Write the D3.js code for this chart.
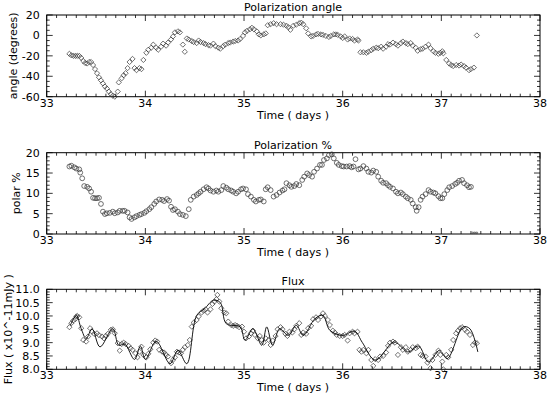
<!DOCTYPE html>
<html>
<head>
<meta charset="utf-8">
<script src="https://cdnjs.cloudflare.com/ajax/libs/d3/7.8.5/d3.min.js"></script>
<style>
  body { margin: 0; background: #fff; }
  svg text { font-family: "DejaVu Sans", sans-serif; font-size: 11px; fill: #000; }
</style>
</head>
<body>
<svg id="chart" width="550" height="397"></svg>
<script>
// ---- data ----
var angleDays = [33.23,33.25,33.27,33.29,33.31,33.33,33.35,33.37,33.39,33.41,33.43,33.45,33.47,33.49,33.51,33.53,33.55,33.57,33.59,33.61,33.63,33.65,33.67,33.69,33.72,33.73,33.76,33.78,33.80,33.82,33.84,33.87,33.89,33.91,33.94,33.96,33.98,34.01,34.03,34.06,34.08,34.11,34.13,34.16,34.18,34.21,34.23,34.26,34.28,34.30,34.33,34.35,34.38,34.40,34.42,34.44,34.47,34.49,34.52,34.54,34.56,34.59,34.61,34.64,34.66,34.69,34.71,34.74,34.76,34.79,34.81,34.84,34.86,34.89,34.91,34.94,34.96,34.99,35.01,35.03,35.06,35.08,35.10,35.13,35.15,35.17,35.20,35.22,35.24,35.27,35.30,35.33,35.37,35.40,35.43,35.45,35.47,35.50,35.53,35.56,35.58,35.60,35.63,35.65,35.68,35.70,35.73,35.75,35.78,35.80,35.83,35.86,35.88,35.91,35.93,35.95,35.98,36.00,36.02,36.05,36.07,36.10,36.12,36.15,36.16,36.18,36.21,36.24,36.26,36.29,36.31,36.34,36.36,36.39,36.41,36.44,36.46,36.48,36.51,36.54,36.56,36.59,36.61,36.64,36.66,36.69,36.71,36.74,36.76,36.79,36.81,36.84,36.87,36.89,36.92,36.94,36.97,36.99,37.01,37.02,37.05,37.08,37.10,37.12,37.15,37.18,37.20,37.23,37.25,37.28,37.30,37.33,37.36];
var angleValues = [-18,-19.5,-20,-20,-20,-20,-22,-25,-27,-27.5,-26,-26,-29,-33,-37,-41,-44,-47,-50,-52,-55,-57.5,-59,-60,-55,-46,-42,-39,-37,-32,-26,-23,-32,-34,-32,-33,-24,-17,-14,-12,-9,-12,-14,-11,-8,-10,-7,-4,-1,3,4,3,-9,-16,-3,-4,-5.5,-6.5,-7.5,-5,-6.5,-7.5,-8.5,-9.5,-10,-8,-10.5,-12,-13,-10.5,-9,-7.5,-7,-6,-5.5,-5,-3.5,-0.5,3,4.5,6,7.5,6,4,1,0,1,2,10,11,12,11,11,10.5,9.5,8,5.5,9.5,10.5,12,12.5,11,7,2,-1,-0.5,1,1.5,1,0.5,-0.5,-1.5,-0.5,1,1,0.5,-1,-2.5,-1,-4,-3,-3.5,-5,-4,-5,-16.5,-16.5,-17,-16,-14.5,-13,-12,-12.5,-11,-13,-11,-8.5,-9,-7,-8.5,-10,-7.5,-6,-7.5,-8.5,-7.5,-10,-12,-15,-13.5,-13,-11,-9,-12.5,-15.5,-17,-18,-17,-15.5,-17.5,-24,-27.5,-29,-30,-29,-29.5,-28.5,-30,-31.5,-34,-33,-31.5,0,0];

var polarDays = [33.23,33.25,33.28,33.30,33.33,33.34,33.36,33.38,33.41,33.43,33.45,33.47,33.49,33.51,33.53,33.55,33.57,33.59,33.61,33.64,33.67,33.69,33.72,33.74,33.77,33.79,33.82,33.84,33.86,33.89,33.91,33.94,33.96,33.99,34.01,34.04,34.06,34.09,34.11,34.14,34.17,34.19,34.22,34.24,34.26,34.28,34.30,34.33,34.35,34.38,34.41,34.44,34.46,34.49,34.52,34.54,34.56,34.59,34.62,34.64,34.66,34.69,34.72,34.74,34.77,34.79,34.82,34.84,34.87,34.89,34.92,34.94,34.97,34.99,35.02,35.04,35.07,35.10,35.12,35.15,35.17,35.20,35.22,35.24,35.27,35.30,35.33,35.36,35.39,35.41,35.43,35.46,35.48,35.51,35.53,35.56,35.59,35.61,35.64,35.66,35.69,35.71,35.74,35.77,35.79,35.81,35.84,35.86,35.89,35.91,35.94,35.96,35.99,36.01,36.04,36.07,36.09,36.11,36.13,36.16,36.18,36.21,36.24,36.26,36.29,36.31,36.34,36.36,36.39,36.41,36.44,36.46,36.48,36.51,36.54,36.56,36.59,36.61,36.64,36.66,36.69,36.71,36.74,36.75,36.77,36.79,36.81,36.84,36.87,36.89,36.92,36.94,36.97,36.99,37.01,37.03,37.06,37.08,37.11,37.14,37.16,37.18,37.21,37.23,37.26,37.28,37.30];
var polarValues = [16.6,16.8,16.4,16.1,15.9,15.1,13.7,11.8,11.6,11.2,10.4,8.9,8.8,8.8,8.9,7.4,5.5,4.9,5.1,5.2,5.5,5.1,5.3,5.7,5.7,5.7,5.3,4.1,3.7,4.1,4.4,4.7,4.9,5.2,5.6,6.1,6.6,7.4,8.0,8.5,8.4,8.1,8.6,8.2,6.7,5.9,6.1,5.5,4.9,4.7,4.4,6.1,8.4,9.2,9.6,10.0,10.4,11.0,11.5,11.2,10.7,10.4,10.7,10.4,10.8,11.8,11.4,11.0,10.7,10.4,10.0,10.4,11.0,11.2,11.0,9.8,9.2,8.4,8.0,8.4,8.5,8.0,11.0,11.5,10.8,9.2,9.6,10.2,10.7,11.0,12.5,12.0,11.6,11.8,12.3,12.0,13.3,14.1,14.9,14.5,14.1,15.3,16.1,17.0,17.0,18.2,18.6,19.4,19.6,18.6,17.5,17.0,16.7,16.6,16.6,16.7,16.4,16.6,18.4,15.9,16.1,16.7,16.1,15.3,15.1,15.6,15.3,14.1,13.1,12.6,12.5,12.0,11.6,11.2,10.4,10.0,10.2,9.8,9.2,8.8,8.4,7.5,6.6,5.7,6.6,8.4,9.2,9.8,10.8,10.4,10.2,10.0,9.3,8.8,8.8,9.8,10.8,11.5,11.8,12.3,12.6,13.1,13.3,12.5,12.0,11.5,11.6];
var polarLowDays = [37.32, 37.34, 37.36];
var polarLowValues = [0.3, 0.3, 0.3];

var fluxDays = [33.23,33.25,33.27,33.29,33.30,33.31,33.33,33.35,33.37,33.40,33.42,33.44,33.46,33.48,33.51,33.53,33.56,33.58,33.60,33.62,33.65,33.67,33.69,33.72,33.74,33.76,33.78,33.80,33.83,33.85,33.87,33.90,33.92,33.94,33.96,33.98,34.01,34.03,34.05,34.08,34.10,34.12,34.14,34.17,34.19,34.21,34.23,34.26,34.28,34.30,34.32,34.34,34.36,34.38,34.40,34.43,34.45,34.47,34.49,34.52,34.54,34.57,34.59,34.61,34.63,34.66,34.68,34.70,34.72,34.73,34.75,34.77,34.80,34.82,34.84,34.87,34.89,34.91,34.93,34.95,34.98,35.00,35.02,35.05,35.07,35.09,35.11,35.14,35.16,35.18,35.20,35.22,35.25,35.27,35.29,35.32,35.34,35.37,35.39,35.42,35.44,35.46,35.49,35.51,35.53,35.56,35.58,35.60,35.63,35.65,35.68,35.70,35.73,35.75,35.78,35.80,35.82,35.85,35.87,35.90,35.92,35.94,35.97,36.00,36.02,36.05,36.07,36.10,36.12,36.15,36.17,36.19,36.21,36.24,36.26,36.29,36.31,36.33,36.36,36.38,36.41,36.44,36.46,36.48,36.51,36.53,36.56,36.59,36.61,36.64,36.66,36.69,36.71,36.74,36.76,36.79,36.81,36.84,36.86,36.89,36.91,36.94,36.97,36.99,37.01,37.02,37.05,37.07,37.10,37.12,37.15,37.17,37.19,37.21,37.24,37.26,37.29,37.32,37.34,37.36];
var fluxValues = [9.58,9.73,9.83,9.88,9.98,10.0,9.95,9.54,9.1,9.04,9.23,9.54,9.41,9.33,9.35,9.28,9.23,9.16,9.25,9.33,9.48,9.5,9.35,8.98,8.7,8.95,9.0,8.95,8.88,8.79,8.73,8.6,8.45,8.66,8.85,8.54,8.45,8.58,8.75,9.0,9.08,9.04,8.73,8.66,8.63,8.54,8.48,8.23,8.35,8.45,8.66,8.63,8.6,8.73,8.83,8.91,9.1,9.6,9.75,9.85,9.98,10.13,10.2,10.25,10.13,10.25,10.45,10.54,10.63,10.79,10.54,10.29,10.13,10.1,9.79,9.66,9.63,9.66,9.63,9.58,9.6,9.41,9.16,9.23,9.35,9.45,9.29,9.16,9.25,9.1,9.0,9.16,9.1,8.91,9.08,9.25,9.5,9.58,9.5,9.33,9.25,9.41,9.38,9.5,9.63,9.73,9.29,9.38,9.33,9.54,9.63,9.88,9.95,9.85,9.98,10.1,10.0,9.85,9.66,9.45,9.38,9.29,9.25,9.25,9.29,9.08,9.35,9.41,9.35,9.41,8.73,8.66,8.73,8.6,8.73,8.35,8.13,8.38,8.35,8.48,8.5,8.63,8.88,9.0,9.04,9.0,8.54,8.83,8.73,8.83,8.66,8.73,8.83,8.79,8.85,8.54,8.5,8.48,8.25,8.04,8.35,8.54,8.7,8.54,8.29,8.0,8.54,8.45,8.73,9.1,9.35,9.45,9.54,9.58,9.48,9.41,9.29,8.91,9.0,8.98];

var fitDays = [33.24,33.30,33.35,33.40,33.46,33.54,33.67,33.73,33.79,33.89,33.95,34.00,34.11,34.25,34.33,34.42,34.52,34.60,34.69,34.76,34.82,34.96,35.01,35.09,35.18,35.23,35.29,35.36,35.45,35.53,35.60,35.72,35.80,35.87,36.00,36.12,36.20,36.33,36.51,36.56,36.66,36.77,36.87,36.98,37.06,37.22,37.29,37.37];
var fitValues = [9.65,10.02,9.52,9.15,9.52,8.84,9.52,8.9,8.95,8.37,8.87,8.37,9.05,8.21,8.71,8.21,10.02,10.27,10.59,10.5,9.71,9.59,9.09,9.52,8.9,9.59,8.9,9.52,9.27,9.65,9.27,9.9,10.02,9.46,9.27,9.43,9.0,8.34,9.02,8.96,8.65,8.87,8.27,8.71,8.4,9.59,9.52,8.65];

var xTicks = [33, 34, 35, 36, 37, 38];
var angleTicks = [-60, -40, -20, 0, 20];
var polarTicks = [0, 5, 10, 15, 20];
var fluxTicks = [8.0, 8.5, 9.0, 9.5, 10.0, 10.5, 11.0];

var svg = d3.select("#chart");
var left = 46.7, right = 540;

var x = d3.scaleLinear().domain([33, 38]).range([left, right]);

function panel(opt) {
  var y = d3.scaleLinear().domain(opt.domain).range([opt.bottom, opt.top]);
  var g = svg.append("g");

  // frame
  g.append("rect")
    .attr("x", left).attr("y", opt.top)
    .attr("width", right - left).attr("height", opt.bottom - opt.top)
    .attr("fill", "none").attr("stroke", "#000").attr("stroke-width", 1);

  // ticks (inward, on all four sides)
  var minorX = d3.range(33, 38.001, 0.1);
  var ytk = [];
  for (var v = opt.domain[0]; v <= opt.domain[1] + 1e-9; v += opt.minor) ytk.push(+v.toFixed(4));
  function isMajor(v, step) { return Math.abs(v / step - Math.round(v / step)) < 1e-6; }

  minorX.forEach(function (d) {
    var len = isMajor(d, 1) ? 6 : 3;
    var xx = x(d);
    g.append("line").attr("x1", xx).attr("x2", xx).attr("y1", opt.bottom).attr("y2", opt.bottom - len)
      .attr("stroke", "#000").attr("stroke-width", 0.8);
    g.append("line").attr("x1", xx).attr("x2", xx).attr("y1", opt.top).attr("y2", opt.top + len)
      .attr("stroke", "#000").attr("stroke-width", 0.8);
  });
  ytk.forEach(function (d) {
    var len = isMajor(d, opt.major) ? 6 : 3;
    var yy = y(d);
    g.append("line").attr("x1", left).attr("x2", left + len).attr("y1", yy).attr("y2", yy)
      .attr("stroke", "#000").attr("stroke-width", 0.8);
    g.append("line").attr("x1", right).attr("x2", right - len).attr("y1", yy).attr("y2", yy)
      .attr("stroke", "#000").attr("stroke-width", 0.8);
  });

  // tick labels
  g.selectAll(".xl").data(xTicks).enter().append("text")
    .attr("x", function (d) { return x(d); })
    .attr("y", opt.bottom + 10)
    .attr("text-anchor", "middle")
    .text(function (d) { return d; });
  g.selectAll(".yl").data(opt.ticks).enter().append("text")
    .attr("x", left - 7)
    .attr("y", function (d) { return y(d) + 4; })
    .attr("text-anchor", "end")
    .text(opt.fmt);

  // titles
  g.append("text").attr("x", 293).attr("y", opt.top - 4).attr("text-anchor", "middle").text(opt.title);
  g.append("text").attr("x", 293).attr("y", opt.bottom + 22).attr("text-anchor", "middle").text("Time ( days )");
  g.append("text")
    .attr("transform", "translate(" + opt.ylabX + "," + ((opt.top + opt.bottom) / 2) + ") rotate(-90)")
    .attr("text-anchor", "middle")
    .text(opt.ylab);

  return { g: g, y: y };
}

function diamonds(g, y, days, vals) {
  var pts = days.map(function (d, i) { return [d, vals[i]]; });
  g.selectAll(null).data(pts).enter().append("path")
    .attr("d", function (p) {
      var cx = x(p[0]), cy = y(p[1]), r = 2.6;
      return "M" + cx + "," + (cy - r) + "L" + (cx + r) + "," + cy + "L" + cx + "," + (cy + r) + "L" + (cx - r) + "," + cy + "Z";
    })
    .attr("fill", "none").attr("stroke", "#333").attr("stroke-width", 0.7);
}

function circles(g, y, days, vals, r) {
  var pts = days.map(function (d, i) { return [d, vals[i]]; });
  g.selectAll(null).data(pts).enter().append("circle")
    .attr("cx", function (p) { return x(p[0]); })
    .attr("cy", function (p) { return y(p[1]); })
    .attr("r", r)
    .attr("fill", "none").attr("stroke", "#333").attr("stroke-width", 0.7);
}

// 1) Polarization angle
var p1 = panel({ top: 15, bottom: 96.7, domain: [-60, 20], major: 20, minor: 5, ticks: angleTicks,
  fmt: function (d) { return d; }, title: "Polarization angle", ylab: "angle (degrees)", ylabX: 17 });
diamonds(p1.g, p1.y, angleDays, angleValues);

// 2) Polarization %
var p2 = panel({ top: 152.7, bottom: 234, domain: [0, 20], major: 5, minor: 1, ticks: polarTicks,
  fmt: function (d) { return d; }, title: "Polarization %", ylab: "polar %", ylabX: 20 });
circles(p2.g, p2.y, polarDays, polarValues, 2.4);
circles(p2.g, p2.y, polarLowDays, polarLowValues, 0.8);

// 3) Flux
var p3 = panel({ top: 289.3, bottom: 369.3, domain: [8, 11], major: 0.5, minor: 0.1, ticks: fluxTicks,
  fmt: d3.format(".1f"), title: "Flux", ylab: "Flux ( x10^-11mJy )", ylabX: 12 });
diamonds(p3.g, p3.y, fluxDays, fluxValues);

var fitLine = d3.line()
  .x(function (d, i) { return x(fitDays[i]); })
  .y(function (d) { return p3.y(d); })
  .curve(d3.curveCatmullRom.alpha(0.5));
p3.g.append("path")
  .attr("d", fitLine(fitValues))
  .attr("fill", "none").attr("stroke", "#000").attr("stroke-width", 0.9);
</script>
</body>
</html>
